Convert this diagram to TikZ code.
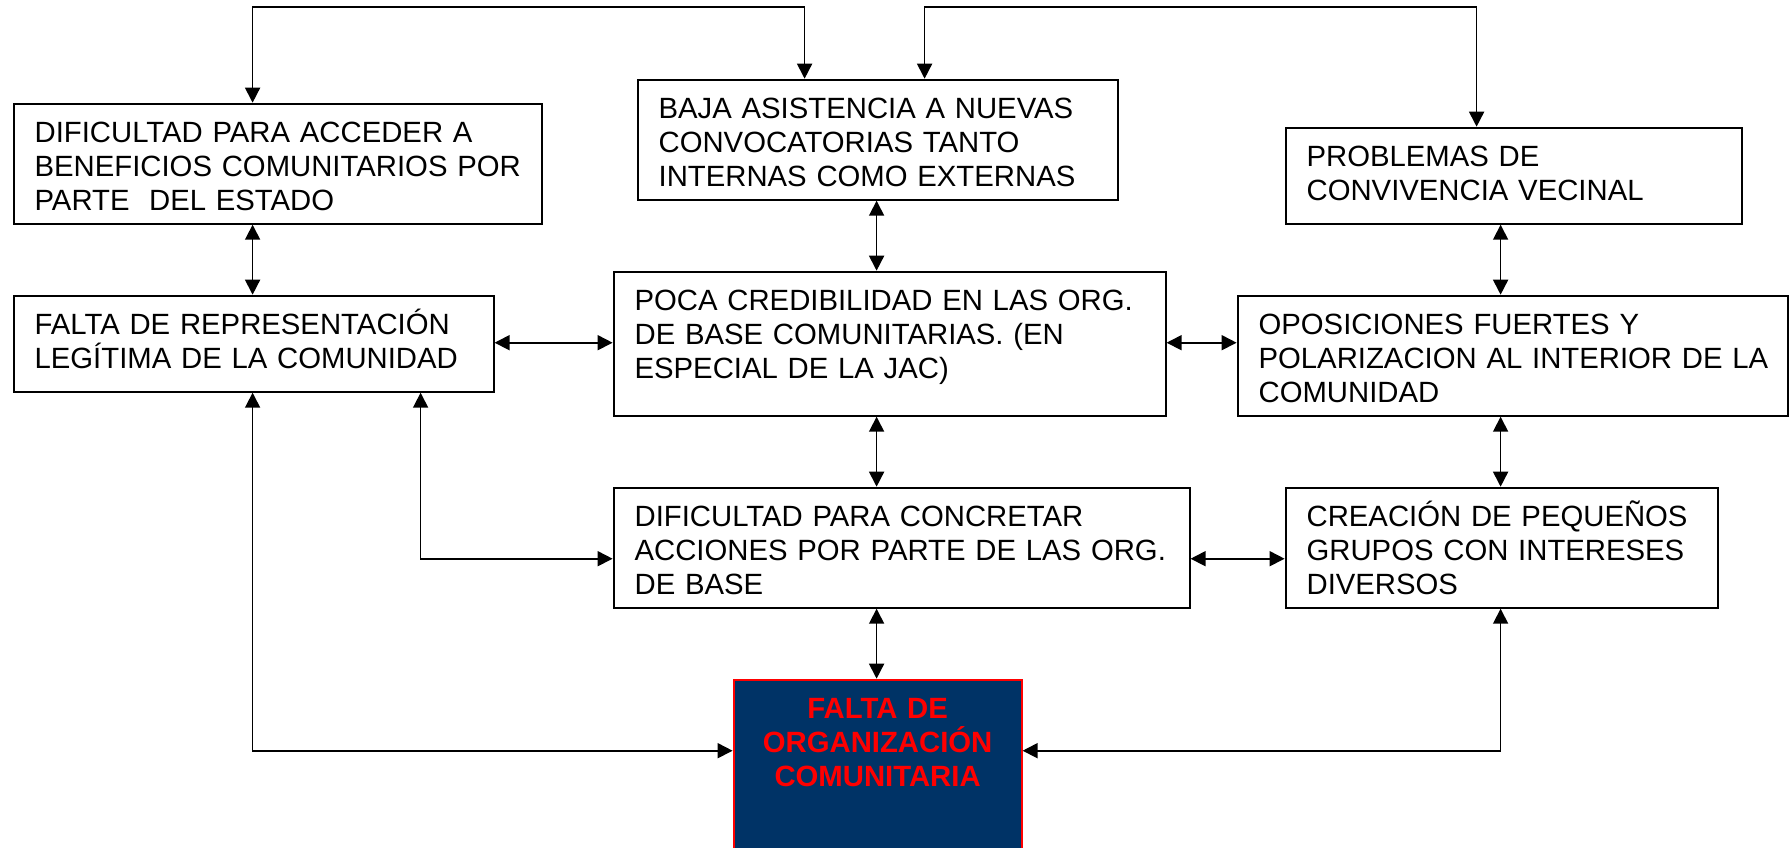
\documentclass[tikz,border=0pt]{standalone}
\usepackage{fontspec}
\setmainfont{Liberation Sans}
\usetikzlibrary{arrows.meta}
\definecolor{navybox}{RGB}{0,51,102}
\definecolor{redtext}{RGB}{255,0,0}
\begin{document}
\begin{tikzpicture}[x=1pt,y=-1pt,
  >={Triangle[length=15pt,width=15pt]},
  conn/.style={<->, line width=1.7pt, line join=miter},
  bx/.style n args={3}{draw, line width=2pt, anchor=north west, align=left,
    inner xsep=21pt, inner ysep=18pt, text width=#1pt, text height=20.6pt, text depth=#2pt,
    font=\fontsize{29.3}{34}\selectfont},
  main/.style={draw=redtext, fill=navybox, line width=2pt, anchor=north west, align=center,
    inner xsep=10pt, inner ysep=18pt, text width=268pt, text height=20.6pt, text depth=117pt,
    text=redtext, font=\fontsize{29.3}{34}\selectfont\bfseries}]
\useasboundingbox[fill=white] (0,0) rectangle (1789,847);

% boxes (W-42 as text width, H-56.6 as depth)
\node[bx={486}{63.4}{}] (A) at (12.6,102.7) {\mbox{DIFICULTAD PARA ACCEDER A}\\\mbox{BENEFICIOS COMUNITARIOS POR}\\\mbox{PARTE\ \ DEL ESTADO}};
\node[bx={438}{63.4}{}] (B) at (636.6,78.7) {\mbox{BAJA ASISTENCIA A NUEVAS}\\\mbox{CONVOCATORIAS TANTO}\\\mbox{INTERNAS COMO EXTERNAS}};
\node[bx={414}{39.4}{}] (C) at (1284.6,126.7) {\mbox{PROBLEMAS DE}\\\mbox{CONVIVENCIA VECINAL}};
\node[bx={438}{39.4}{}] (D) at (12.6,294.7) {\mbox{FALTA DE REPRESENTACIÓN}\\\mbox{LEGÍTIMA DE LA COMUNIDAD}};
\node[bx={510}{87.4}{}] (E) at (612.6,270.7) {\mbox{POCA CREDIBILIDAD EN LAS ORG.}\\\mbox{DE BASE COMUNITARIAS. (EN}\\\mbox{ESPECIAL DE LA JAC)}};
\node[bx={508}{63.4}{}] (F) at (1236.6,294.7) {\mbox{OPOSICIONES FUERTES Y}\\\mbox{POLARIZACION AL INTERIOR DE LA}\\\mbox{COMUNIDAD}};
\node[bx={534}{63.4}{}] (G) at (612.6,486.7) {\mbox{DIFICULTAD PARA CONCRETAR}\\\mbox{ACCIONES POR PARTE DE LAS ORG.}\\\mbox{DE BASE}};
\node[bx={390}{63.4}{}] (H) at (1284.6,486.7) {\mbox{CREACIÓN DE PEQUEÑOS}\\\mbox{GRUPOS CON INTERESES}\\\mbox{DIVERSOS}};
\node[main] (I) at (732.6,678.7) {FALTA DE\\ORGANIZACIÓN\\COMUNITARIA};

% routing coordinates
\coordinate (t1) at (252.6,6.7);
\coordinate (t2) at (804.6,6.7);
\coordinate (t3) at (924.6,6.7);
\coordinate (t4) at (1476.6,6.7);
\coordinate (xm) at (876.6,0);
\coordinate (xr) at (1500.6,0);
\coordinate (y1) at (0,342.7);
\coordinate (y2) at (0,558.7);
\coordinate (b1) at (420.6,558.7);
\coordinate (b2) at (252.6,750.7);
\coordinate (b3) at (1500.6,750.7);

% connectors
\draw[conn] (A.north -| t1) -- (t1) -- (t2) -- (B.north -| t2);
\draw[conn] (B.north -| t3) -- (t3) -- (t4) -- (C.north -| t4);
\draw[conn] (A.south -| t1) -- (D.north -| t1);
\draw[conn] (B.south -| xm) -- (E.north -| xm);
\draw[conn] (E.south -| xm) -- (G.north -| xm);
\draw[conn] (G.south -| xm) -- (I.north -| xm);
\draw[conn] (C.south -| xr) -- (F.north -| xr);
\draw[conn] (F.south -| xr) -- (H.north -| xr);
\draw[conn] (D.east |- y1) -- (E.west |- y1);
\draw[conn] (E.east |- y1) -- (F.west |- y1);
\draw[conn] (G.east |- y2) -- (H.west |- y2);
\draw[conn] (D.south -| b1) -- (b1) -- (G.west |- b1);
\draw[conn] (D.south -| b2) -- (b2) -- (I.west |- b2);
\draw[conn] (H.south -| b3) -- (b3) -- (I.east |- b3);
\end{tikzpicture}
\end{document}
